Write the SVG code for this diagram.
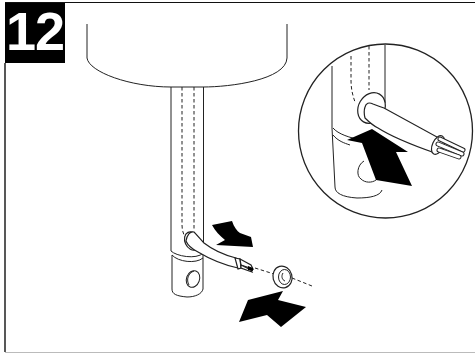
<svg xmlns="http://www.w3.org/2000/svg" width="475" height="353" viewBox="0 0 475 353">
<style>
.l{fill:none;stroke:#222;stroke-width:1}
.t{fill:none;stroke:#222;stroke-width:1.3}
.d{fill:none;stroke:#222;stroke-width:1;stroke-dasharray:3.5 2.5}
.w{fill:#fff;stroke:#222;stroke-width:1.2}
.a{fill:#000;stroke:none}
.wo{fill:none;stroke:#222;stroke-width:5;stroke-linecap:round}
.wi{fill:none;stroke:#fff;stroke-width:3;stroke-linecap:round}
</style>
<rect width="475" height="353" fill="#fff"/>
<path d="M5 63V352" fill="none" stroke="#111" stroke-width="1.4"/>
<path d="M5 2.500H475" fill="none" stroke="#111" stroke-width="1.2"/>
<path d="M5 352.500H475" fill="none" stroke="#bbb" stroke-width="1"/>
<g id="badge"><rect x="5" y="3" width="60" height="60" fill="#000"/>
<text x="35" y="50" text-anchor="middle" font-family="'Liberation Sans',Arial,sans-serif" font-weight="700" font-size="54" letter-spacing="-1" fill="#fff">12</text></g>
<g id="main">
<path class="l" d="M87 24V58C89 72 130 87 171 87H203C230 87 286 80 287 58V24"/>
<path class="l" d="M171 87V251M203.500 87V255"/>
<path class="l" d="M171 251C176 256 196 260 203.500 253"/>
<path class="l" d="M172 255C178 262 196 264 203 258"/>
<path class="l" d="M172 255V289C172 294 176 296 187 297C195 297 202 294 203 289V255"/>
<path class="d" d="M182 87V225C182 231 184 236 187 240"/>
<path class="d" d="M194 87V231"/>
<ellipse class="l" cx="193" cy="279" rx="6.500" ry="8.500" transform="rotate(20 193 279)"/>
<path class="l" d="M189 285C186 280 188 273 194 271"/>
<ellipse class="w" cx="192" cy="241" rx="7" ry="9.500" transform="rotate(-25 192 241)"/>
<path class="w" d="M186 241C187 235 190 231 194 232C197 235 200 239 204 243C213 250 224 255 236 258L238 268C224 265 208 258 198 252C192 249 188 246 186 241Z"/>
<path class="w" d="M235 258L240 259L241 268L238 269Z"/>
<path class="w" d="M240 259L251 265L253 269L241 265Z"/>
<path class="w" d="M241 265L251 270L252 272L241 268Z"/>
<path fill="#000" d="M248 266L253 268L253 271L248 270Z"/>
<path class="d" d="M255 268L274 274M292 278L312 286"/>
<g><ellipse class="w" cx="282.500" cy="277" rx="9.500" ry="11" transform="rotate(-15 282.500 277)"/>
<ellipse class="l" cx="284.500" cy="277" rx="6" ry="7.500"/>
<path class="l" d="M283 273C281 276 282 280 285 281"/></g>
<path class="a" d="M212 225L232 221C234 227 237 231 240 233L251 237L253 247L216 245L225 240C220 236 215 231 212 225Z"/>
<path class="a" d="M239 322L248 300L283 291L278 300L306 307L281 327L267 315Z"/>
</g>
<g id="detail">
<circle class="t" cx="385.500" cy="131" r="87"/>
<path class="l" d="M332 66V128L335 187C335 193 342 197 357 198C370 198 380 196 382 190"/>
<path class="l" d="M385 45V103"/>
<path class="d" d="M351 56V80C351 90 353 96 355 102"/>
<path class="d" d="M369 46V90"/>
<path class="l" d="M333 128C338 134 350 138 362 140M333 135C338 141 344 143 350 145"/>
<path class="l" d="M364 161C357 165 356 176 361 179C365 183 372 183 376 180"/>
<ellipse class="w" cx="371.500" cy="108" rx="13" ry="16" transform="rotate(30 371.500 108)"/>
<path class="w" d="M365 107C366 103 369 102 373 104C378 106 381 107 384 108L437 137L435 153C415 146 392 137 378 128C372 125 368 121 365 118C364 114 364 110 365 107Z"/>
<ellipse class="w" cx="438" cy="145" rx="5.500" ry="10" transform="rotate(25 438 145)"/>
<path class="wo" d="M440 139L463 150"/><path class="wi" d="M440 139L463 150"/>
<path class="wo" d="M438 144L462 154"/><path class="wi" d="M438 144L462 154"/>
<path class="wo" d="M439 150L459 157"/><path class="wi" d="M439 150L459 157"/>
<path class="a" d="M347 140L372 129L408 152L396 152L412 186L376 180L362 143Z"/>
</g>
</svg>
